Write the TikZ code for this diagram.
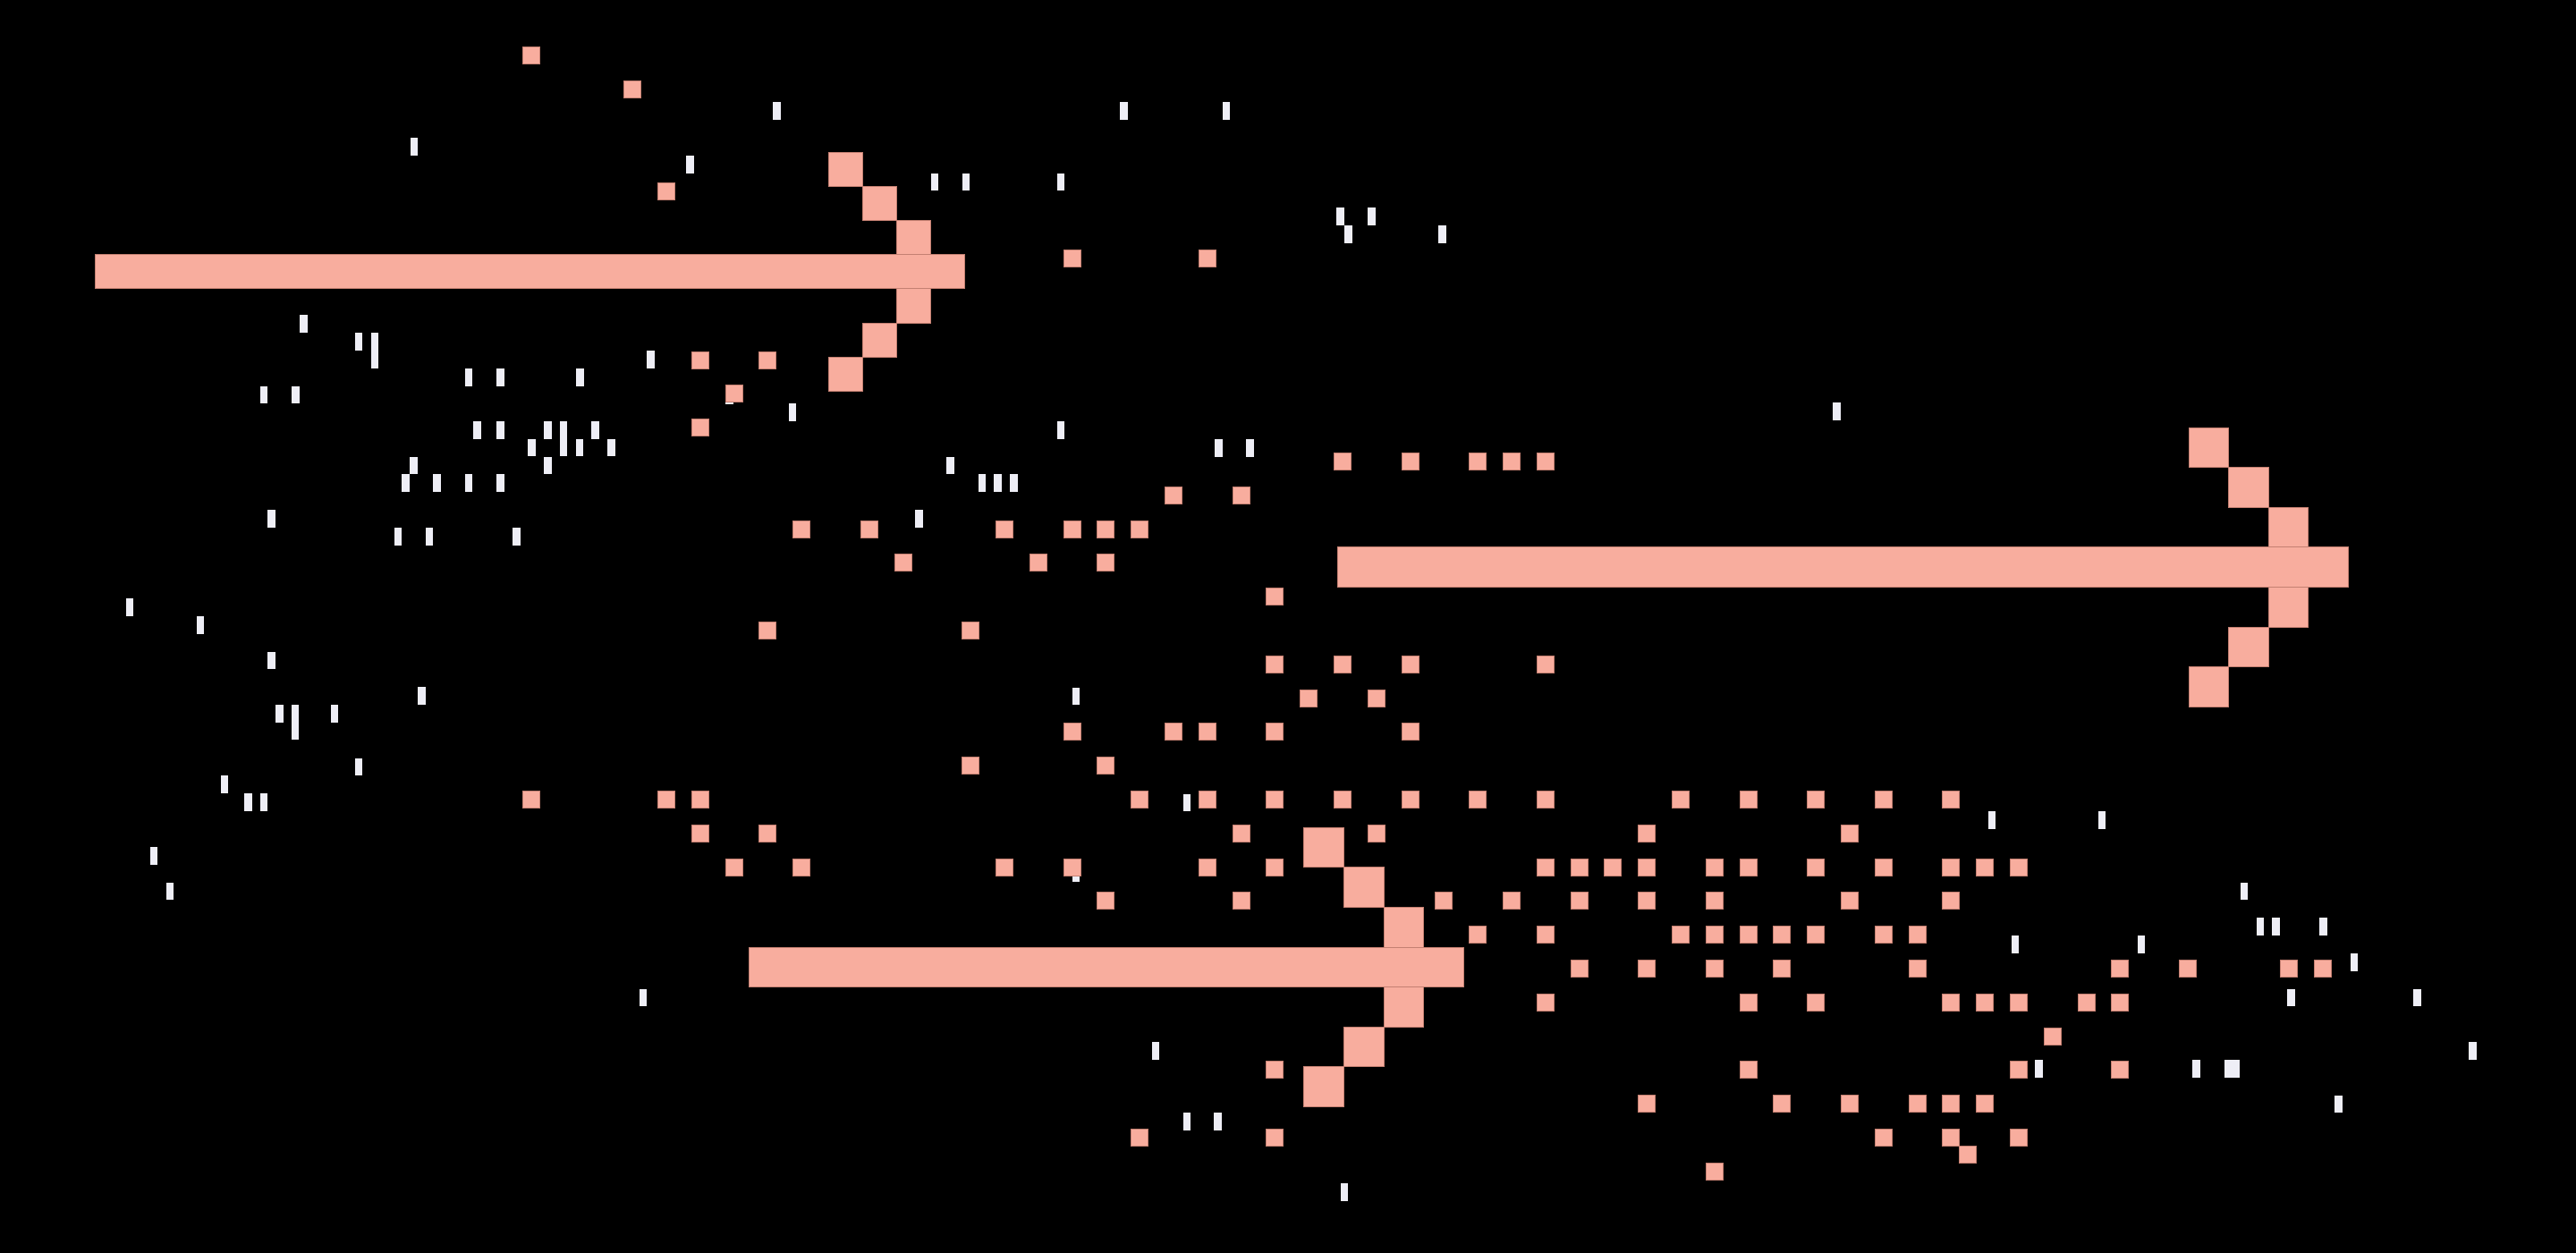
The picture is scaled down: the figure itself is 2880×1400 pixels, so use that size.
\documentclass[tikz,border=0pt]{standalone}
\definecolor{salmon}{RGB}{248,173,158}
\definecolor{salmonedge}{RGB}{196,128,114}
\definecolor{barwhite}{RGB}{238,238,246}
\tikzset{
  sq/.style={fill=salmon,draw=salmonedge,line width=0.6pt},
  arrowcell/.style={fill=salmon,draw=salmonedge,line width=0.8pt},
  wbar/.style={fill=barwhite}
}
\newcommand{\pxarrow}[4]{%
  \path[arrowcell] (#4,{#2+3*#3}) rectangle ({#1+4*#3},{#2+4*#3});
  \foreach \r/\cc in {0/0,1/1,2/2,4/2,5/1,6/0}{%
    \path[arrowcell] ({#1+\cc*#3},{#2+\r*#3}) rectangle ++(#3,#3);}%
}
\begin{document}
\begin{tikzpicture}[x=1pt,y=-1pt]
\useasboundingbox (0,0) rectangle (2880,1400);
\fill[black] (-10,-10) rectangle (2890,1410);
% white bars (single height)
\foreach \x/\y in {863.9/114.3,458.6/154,767.2/174,334.9/352.3,396.7/372.3,723.1/392.3,
  519.8/412,555.3/412,644.1/412,290.8/431.7,326.3/431.7,881.6/451.3,811.2/432.0,
  1252/114.3,1366.5/114.3,1040.8/193.7,1075.7/193.7,1181.6/193.7,1493.9/232.3,1529.4/232.3,
  1503/252,1608.4/252,2049.2/450.3,
  529/471,555.3/471,608/471,661.2/471,590.2/490.7,643.5/490.7,679/490.7,458/510.7,608/510.7,
  449.4/530.3,484.3/530.3,519.8/530.3,555.3/530.3,299.4/570,440.8/590,475.7/590,573/590,
  140.8/669,219.8/689,299.4/728.7,467.1/768.3,308/788,369.8/788,396.7/847.7,246.7/867.3,
  273.1/887.3,290.8/887.3,167.8/947,185.5/986.7,714.5/1105.7,
  1181.6/471,1358/491,1392.9/491,1058/510.7,1093.5/530.3,1111.2/530.3,1129/530.3,1023/570.3,
  1198.8/768.7,1322.5/887.7,1198.8/966.5,1287.5/1165,1322.5/1244.3,1357.4/1244.3,1498.8/1323.3,
  2222.5/907.3,2345.5/907.3,2504.7/986.7,2522.5/1026.3,2540.2/1026.3,2592.9/1026.3,
  2248.8/1046.3,2389.6/1046.3,2627.8/1066,2557.4/1105.7,2698.2/1105.7,2760/1165,
  2275.1/1185,2451.4/1185,2610/1224.7}
  \path[wbar] (\x,\y) rectangle ++(8.6,19.7);
% white bars (double height)
\foreach \x/\y in {414.5/372.3,625.7/471,325.7/788}
  \path[wbar] (\x,\y) rectangle ++(8.6,39.4);
% wide white block
\path[wbar] (2487,1185) rectangle ++(17.1,19.7);
% salmon squares on the grid
\foreach \j/\ks in {1/{15},2/{18},5/{19},7/{31,35},10/{20,22},11/{21},12/{20},
  13/{39,41,43,44,45},14/{34,36},15/{23,25,29,31,32,33},16/{26,30,32},17/{37},
  18/{22,28},19/{37,39,41,45},20/{38,40},21/{31,34,35,37,41},22/{28,32},
  23/{15,19,20,33,35,37,39,41,43,45,49,51,53,55,57},24/{20,22,36,40,48,54},
  25/{21,23,29,31,35,37,45,46,47,48,50,51,53,55,57,58,59},
  26/{32,36,42,44,46,48,50,54,57},27/{43,45,49,50,51,52,53,55,56},
  28/{46,48,50,52,56,62,64,67,68},29/{45,51,53,57,58,59,61,62},30/{60},
  31/{37,51,59,62},32/{48,52,54,56,57,58},33/{33,37,55,57,59},34/{50}}
  \foreach \k in \ks
    \path[sq] ({17.1+37.8*\k},{14.9+37.8*\j}) rectangle ++(18.9,18.9);
\path[sq] ({17.1+37.8*57.5},{14.9+37.8*33.5}) rectangle ++(18.9,18.9);
% pixel arrows
\pxarrow{926}{170}{38.2}{106.5}
\pxarrow{2447}{478}{44.6}{1495}
\pxarrow{1457.8}{925.3}{44.55}{837}
\end{tikzpicture}
\end{document}
